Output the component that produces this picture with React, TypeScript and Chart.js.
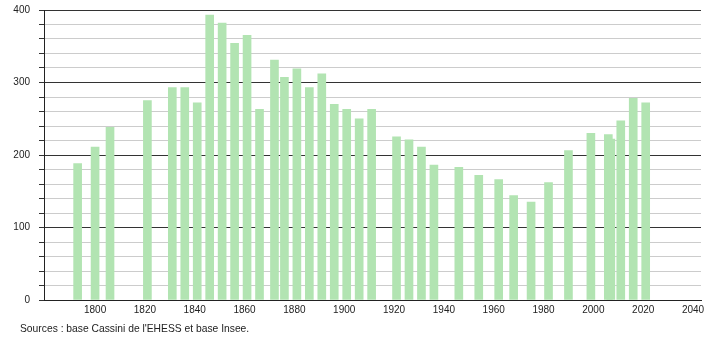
import React, { useEffect, useRef } from "react";
import { Chart, registerables } from "chart.js";

Chart.register(...registerables);

const years = [1793, 1800, 1806, 1821, 1831, 1836, 1841, 1846, 1851, 1856, 1861, 1866, 1872, 1876, 1881, 1886, 1891, 1896, 1901, 1906, 1911, 1921, 1926, 1931, 1936, 1946, 1954, 1962, 1968, 1975, 1982, 1990, 1999, 2006, 2007, 2011, 2016, 2021];
const population = [188, 211, 238, 275, 293, 293, 272, 393, 382, 354, 365, 263, 331, 307, 319, 293, 312, 270, 263, 250, 263, 225, 221, 211, 186, 183, 172, 166, 144, 135, 162, 206, 230, 228, 222, 247, 278, 272];
const xTicks = [1800, 1820, 1840, 1860, 1880, 1900, 1920, 1940, 1960, 1980, 2000, 2020, 2040];
const sourceText = "Sources : base Cassini de l'EHESS et base Insee.";

const FONT = "'Liberation Sans', Arial, sans-serif";

export default function App() {
  const ref = useRef<HTMLCanvasElement | null>(null);
  useEffect(() => {
    document.body.style.margin = "0";
    const canvas = ref.current!;
    const sourcePlugin = {
      id: "sources",
      afterDraw(chart: any) {
        const c = chart.ctx;
        c.save();
        c.font = `10.3px ${FONT}`;
        c.fillStyle = "#222";
        c.textBaseline = "middle";
        c.textAlign = "left";
        c.fillText(sourceText, 20, 329);
        c.restore();
      },
    };
    const chart = new Chart(canvas, {
      type: "bar",
      data: {
        datasets: [
          {
            data: years.map((y, i) => ({ x: y, y: population[i] })),
            backgroundColor: "#b2e4b2",
            borderWidth: 0,
            barThickness: 8,
          },
        ],
      },
      options: {
        animation: false,
        responsive: false,
        maintainAspectRatio: false,
        layout: { padding: { left: 0, right: 9, top: 10, bottom: 0 } },
        plugins: { legend: { display: false }, tooltip: { enabled: false } },
        scales: {
          x: {
            type: "linear",
            min: 1779.5,
            max: 2043.2,
            offset: false,
            afterBuildTicks: (scale: any) => {
              scale.ticks = xTicks.map((v) => ({ value: v }));
            },
            afterFit: (scale: any) => {
              scale.height = 40;
              scale.paddingLeft = 0;
              scale.paddingRight = 0;
            },
            grid: { display: false, drawTicks: false },
            border: { display: true, color: "#222", width: 1 },
            ticks: {
              autoSkip: false,
              maxRotation: 0,
              padding: 4,
              color: "#222",
              font: { family: FONT, size: 10 },
              callback: (v: any) => String(v),
            },
          },
          y: {
            min: 0,
            max: 400,
            afterBuildTicks: (scale: any) => {
              const t = [];
              for (let v = 0; v <= 400; v += 20) t.push({ value: v });
              scale.ticks = t;
            },
            afterFit: (scale: any) => {
              scale.width = 44;
              scale.paddingTop = 0;
              scale.paddingBottom = 0;
            },
            grid: {
              color: (ctx: any) => (ctx.tick && ctx.tick.value % 100 === 0 ? "#333" : "#cccccc"),
              tickColor: "#333",
              tickLength: 5,
              lineWidth: 1,
            },
            border: { display: true, color: "#222", width: 1 },
            ticks: {
              autoSkip: false,
              padding: 9,
              color: "#222",
              font: { family: FONT, size: 10 },
              callback: (v: any) => (Number(v) % 100 === 0 ? String(v) : ""),
            },
          },
        },
      },
      plugins: [sourcePlugin],
    } as any);
    return () => chart.destroy();
  }, []);
  return <canvas ref={ref} width={710} height={340} style={{ display: "block" }} />;
}
